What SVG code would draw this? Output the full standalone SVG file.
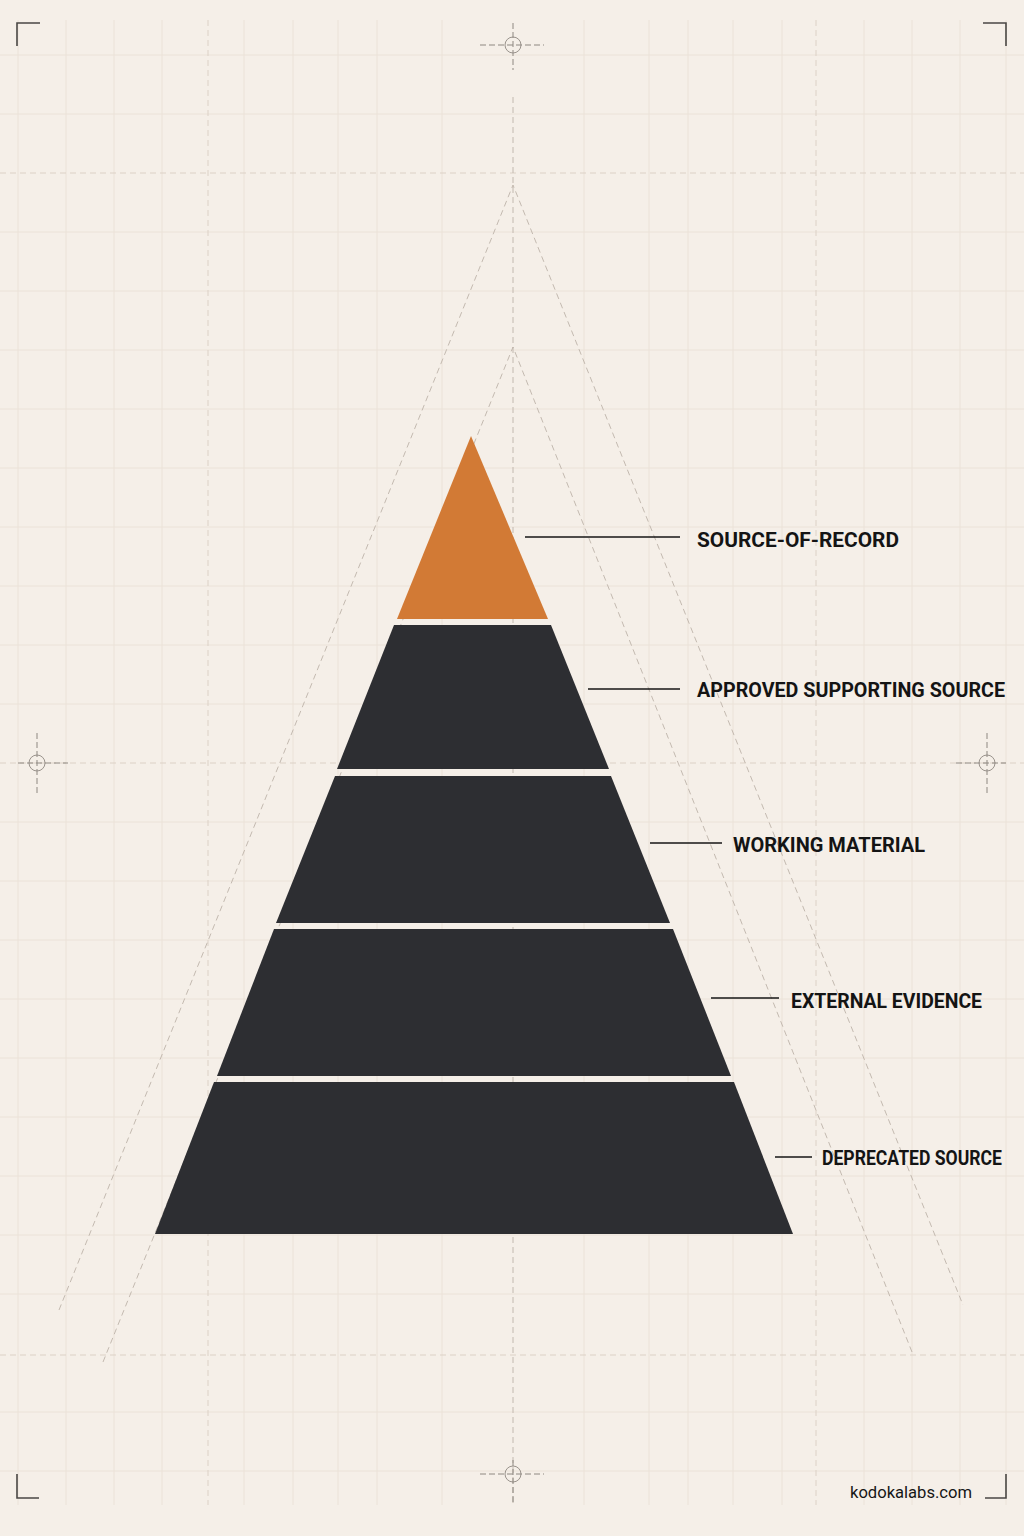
<svg xmlns="http://www.w3.org/2000/svg" width="1024" height="1536" viewBox="0 0 1024 1536">
  <defs>
    <style>
      .grid { stroke: #ebe2d8; stroke-width: 1; fill: none; }
      .gridd { stroke: #dcd1c6; stroke-width: 1; stroke-dasharray: 6 4; fill: none; }
      .guide { stroke: #bdb3a9; stroke-width: 0.9; stroke-dasharray: 6 4; fill: none; }
      .cross { stroke: #8e8881; stroke-width: 1; stroke-dasharray: 6 3; fill: none; }
      .crossc { stroke: #8e8881; stroke-width: 0.9; fill: none; }
      .corner { stroke: #4a4744; stroke-width: 1.6; fill: none; }
      .dark { fill: #2d2e32; }
      .orange { fill: #d27a35; }
      .leader { stroke: #161616; stroke-width: 1.6; fill: none; }
      .label { font-family: Roboto, "Liberation Sans", sans-serif; font-weight: 700; font-size: 20px; fill: #141414; }
      .site { font-family: Roboto, "Liberation Sans", sans-serif; font-weight: 400; font-size: 16px; fill: #161616; }
    </style>
  </defs>
  <rect x="0" y="0" width="1024" height="1536" fill="#f5efe8"/>

  <g id="grid">
    <path class="grid" d="M18 20V1505 M66 20V1505 M114 20V1505 M162 20V1505 M244 20V1505 M293 20V1505 M338 20V1505 M377 20V1505 M442 20V1505 M584 20V1505 M649 20V1505 M688 20V1505 M733 20V1505 M782 20V1505 M864 20V1505 M912 20V1505 M960 20V1505 M1006 20V1505"/>
    <path class="grid" d="M0 55H1024 M0 114H1024 M0 232H1024 M0 291H1024 M0 350H1024 M0 409H1024 M0 468H1024 M0 527H1024 M0 586H1024 M0 645H1024 M0 704H1024 M0 822H1024 M0 881H1024 M0 940H1024 M0 999H1024 M0 1058H1024 M0 1117H1024 M0 1176H1024 M0 1235H1024 M0 1294H1024 M0 1412H1024 M0 1471H1024"/>
    <path class="gridd" d="M208 20V1505 M816 20V1505 M0 173H1024 M0 763H1024 M0 1355H1024"/>
    <path class="guide" d="M513 97V1505"/>
  </g>

  <g id="guides">
    <path class="guide" d="M59 1310 L513 185 L963 1305"/>
    <path class="guide" d="M103 1362 L513 347 L912 1352"/>
  </g>

  <g id="registration">
    <g id="cross-top">
      <path class="cross" d="M480 45H544 M513 23V70"/>
      <circle class="crossc" cx="513" cy="45" r="8"/>
    </g>
    <g id="cross-left">
      <path class="cross" d="M18 763H68 M37 733V795"/>
      <circle class="crossc" cx="37" cy="763" r="8"/>
    </g>
    <g id="cross-right">
      <path class="cross" d="M956 763H1006 M987 733V795"/>
      <circle class="crossc" cx="987" cy="763" r="8"/>
    </g>
    <g id="cross-bottom">
      <path class="cross" d="M480 1474H544 M513 1460V1503"/>
      <circle class="crossc" cx="513" cy="1474" r="8"/>
    </g>
    <path class="corner" d="M17 46V23H40 M1006 46V23H983 M17 1474V1498H39 M1006 1474V1498H985"/>
  </g>

  <g id="tier-1">
    <polygon class="orange" points="471,436 548,619 397,619"/>
  </g>
  <g id="tier-2">
    <polygon class="dark" points="394,625 551,625 609,769 337,769"/>
  </g>
  <g id="tier-3">
    <polygon class="dark" points="335,776 611,776 670,923 276,923"/>
  </g>
  <g id="tier-4">
    <polygon class="dark" points="274,929 673,929 731,1076 217,1076"/>
  </g>
  <g id="tier-5">
    <polygon class="dark" points="214,1082 734,1082 793,1234 155,1234"/>
  </g>

  <g id="connectors">
    <path class="leader" d="M525 537H680"/>
    <path class="leader" d="M588 689H680"/>
    <path class="leader" d="M650 843H722"/>
    <path class="leader" d="M711 998H779"/>
    <path class="leader" d="M775 1157H812"/>
  </g>

  <g id="labels">
    <g id="label-1"><text class="label" x="697" y="547" textLength="202" lengthAdjust="spacingAndGlyphs">SOURCE-OF-RECORD</text></g>
    <g id="label-2"><text class="label" x="697" y="697" textLength="308" lengthAdjust="spacingAndGlyphs">APPROVED SUPPORTING SOURCE</text></g>
    <g id="label-3"><text class="label" x="733" y="852" textLength="192" lengthAdjust="spacingAndGlyphs">WORKING MATERIAL</text></g>
    <g id="label-4"><text class="label" x="791" y="1008" textLength="191" lengthAdjust="spacingAndGlyphs">EXTERNAL EVIDENCE</text></g>
    <g id="label-5"><text class="label" x="822" y="1165" font-size="19" textLength="180" lengthAdjust="spacingAndGlyphs">DEPRECATED SOURCE</text></g>
  </g>

  <text class="site" x="850" y="1498" textLength="122" lengthAdjust="spacingAndGlyphs">kodokalabs.com</text>
</svg>
